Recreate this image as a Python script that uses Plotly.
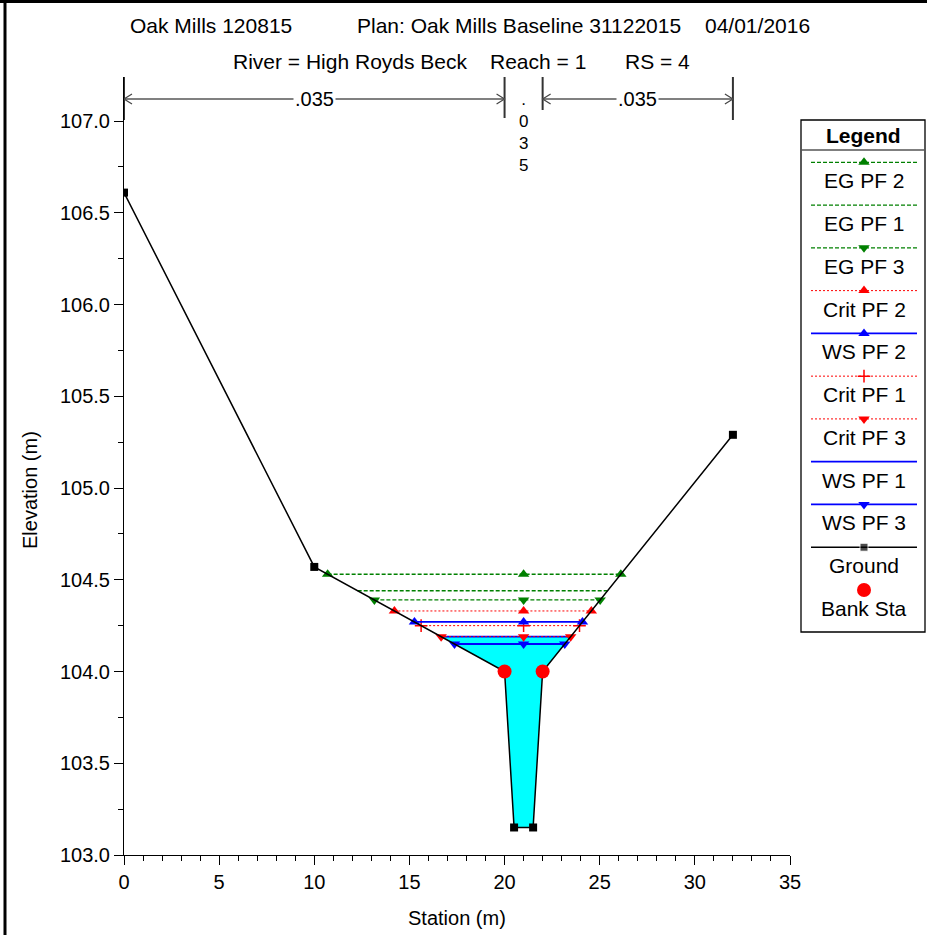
import numpy as np
import plotly.graph_objects as go

# ---------------- data ----------------
ground_x = [0.0, 10.0, 20.0, 20.5, 21.5, 22.0, 32.0]
ground_y = [106.61, 104.57, 104.00, 103.15, 103.15, 104.00, 105.29]
bank_x = [20.0, 22.0]
bank_y = [104.00, 104.00]
n_stations = [0.0, 20.0, 22.0, 32.0]
n_values = [".035", ".035", ".035"]

profile_names = ["EG PF 2", "EG PF 1", "EG PF 3", "Crit PF 2", "WS PF 2",
                 "Crit PF 1", "Crit PF 3", "WS PF 1", "WS PF 3"]
profile_elev = [104.53, 104.44, 104.39, 104.33, 104.27, 104.25, 104.19, 104.19, 104.15]
fill_profile = "WS PF 1"

title_line1 = ["Oak Mills 120815", "Plan: Oak Mills Baseline 31122015", "04/01/2016"]
title_line2 = ["River = High Royds Beck", "Reach = 1", "RS = 4"]
x_title = "Station (m)"
y_title = "Elevation (m)"
x_ticks = [0, 5, 10, 15, 20, 25, 30, 35]
y_ticks = [103.0, 103.5, 104.0, 104.5, 105.0, 105.5, 106.0, 106.5, 107.0]

# ---------------- styles ----------------
GREEN = "#008000"
RED = "#ff0000"
BLUE = "#0000ff"
styles = {
    "EG PF 2": dict(color=GREEN, dash="4px,2px", width=1.3, symbol="triangle-up"),
    "EG PF 1": dict(color=GREEN, dash="4px,2px", width=1.3, symbol=None),
    "EG PF 3": dict(color=GREEN, dash="4px,2px", width=1.3, symbol="triangle-down"),
    "Crit PF 2": dict(color=RED, dash="2px,2px", width=1.0, symbol="triangle-up"),
    "WS PF 2": dict(color=BLUE, dash="solid", width=1.8, symbol="triangle-up"),
    "Crit PF 1": dict(color=RED, dash="2px,2px", width=1.0, symbol="cross-thin"),
    "Crit PF 3": dict(color=RED, dash="2px,2px", width=1.0, symbol="triangle-down"),
    "WS PF 1": dict(color=BLUE, dash="solid", width=1.8, symbol=None),
    "WS PF 3": dict(color=BLUE, dash="solid", width=1.8, symbol="triangle-down"),
}
FONT = "Liberation Sans, Arial, Helvetica, sans-serif"

W, H = 927, 935
ML, MR, MT, MB = 124, 1, 77, 80
PW = W - ML - MR
PH = H - MT - MB


def px(xp):
    return (xp - ML) / PW


def py(yp):
    return (H - MB - yp) / PH


gx = np.array(ground_x)
gy = np.array(ground_y)
imin = int(np.argmin(gy))


def crossings(level):
    left = np.interp(level, gy[:imin + 1][::-1], gx[:imin + 1][::-1])
    right = np.interp(level, gy[imin + 1:], gx[imin + 1:])
    return left, right


mid_x = float(np.mean(bank_x))

fig = go.Figure()

# water fill
lvl = profile_elev[profile_names.index(fill_profile)]
xl, xr = crossings(lvl)
fx = [xl] + [x for x, y in zip(ground_x, ground_y) if y < lvl] + [xr]
fy = [lvl] + [y for y in ground_y if y < lvl] + [lvl]
fig.add_trace(go.Scatter(x=fx, y=fy, fill="toself", fillcolor="#00ffff",
                         mode="none", showlegend=False, hoverinfo="skip"))


def marker_for(st):
    if st["symbol"] == "cross-thin":
        return dict(symbol="cross-thin", size=9, color=st["color"],
                    line=dict(color=st["color"], width=1.5))
    return dict(symbol=st["symbol"], size=10, color=st["color"])


# profile lines (draw bottom-most first)
for name, elev in reversed(list(zip(profile_names, profile_elev))):
    st = styles[name]
    xl, xr = crossings(elev)
    fig.add_trace(go.Scatter(x=[xl, xr], y=[elev, elev], mode="lines",
                             line=dict(color=st["color"], dash=st["dash"], width=st["width"]),
                             showlegend=False, hoverinfo="skip"))
    if st["symbol"]:
        fig.add_trace(go.Scatter(x=[xl, mid_x, xr], y=[elev] * 3, mode="markers",
                                 marker=marker_for(st), showlegend=False, hoverinfo="skip"))

# ground
fig.add_trace(go.Scatter(x=ground_x, y=ground_y, mode="lines+markers",
                         line=dict(color="black", width=1.5),
                         marker=dict(symbol="square", size=8, color="black"),
                         showlegend=False, hoverinfo="skip"))
# banks
fig.add_trace(go.Scatter(x=bank_x, y=bank_y, mode="markers",
                         marker=dict(symbol="circle", size=14, color=RED),
                         showlegend=False, hoverinfo="skip"))

shapes = []
annotations = []

# ---- Manning's n brackets ----
GRAY = "#808080"
bracket_bottom = [120, 118, 110, 120]
for s, bb in zip(n_stations, bracket_bottom):
    shapes.append(dict(type="line", xref="x", yref="paper", x0=s, x1=s,
                       y0=py(77), y1=py(bb), line=dict(color="#333333", width=2)))
arrow_y = py(99)
dxs = 8 / 666 * 35  # chevron length in stations (~8px)
dh = 5 / PH
for i, val in enumerate(n_values):
    a, b = n_stations[i], n_stations[i + 1]
    if b - a < 5:
        # narrow segment: vertical text
        annotations.append(dict(x=(a + b) / 2, y=py(88), xref="x", yref="paper",
                                text="<br>".join(list(val)), showarrow=False,
                                font=dict(family=FONT, size=17, color="black"),
                                xanchor="center", yanchor="top"))
        continue
    shapes.append(dict(type="line", xref="x", yref="paper", x0=a, x1=b, y0=arrow_y, y1=arrow_y,
                       line=dict(color=GRAY, width=2)))
    shapes.append(dict(type="path", xref="x", yref="paper",
                       path=f"M {a + dxs} {arrow_y + dh} L {a} {arrow_y} L {a + dxs} {arrow_y - dh}",
                       line=dict(color="#444444", width=1.2)))
    shapes.append(dict(type="path", xref="x", yref="paper",
                       path=f"M {b - dxs} {arrow_y + dh} L {b} {arrow_y} L {b - dxs} {arrow_y - dh}",
                       line=dict(color="#444444", width=1.2)))
    annotations.append(dict(x=(a + b) / 2, y=arrow_y, xref="x", yref="paper", text=val,
                            showarrow=False, bgcolor="white", borderpad=1,
                            font=dict(family=FONT, size=20, color="black"),
                            xanchor="center", yanchor="middle"))

# ---- titles ----
for txt, xp in zip(title_line1, [128, 355, 703]):
    annotations.append(dict(x=px(xp), y=py(25), xref="paper", yref="paper", text=txt, showarrow=False,
                            xanchor="left", yanchor="middle", font=dict(family=FONT, size=21, color="black")))
for txt, xp in zip(title_line2, [231, 488, 623]):
    annotations.append(dict(x=px(xp), y=py(61), xref="paper", yref="paper", text=txt, showarrow=False,
                            xanchor="left", yanchor="middle", font=dict(family=FONT, size=21, color="black")))

# axis titles
annotations.append(dict(x=px(457), y=py(918), xref="paper", yref="paper", text=x_title, showarrow=False,
                        xanchor="center", yanchor="middle", font=dict(family=FONT, size=20, color="black")))
annotations.append(dict(x=px(30), y=py(490), xref="paper", yref="paper", text=y_title, showarrow=False,
                        textangle=-90, xanchor="center", yanchor="middle",
                        font=dict(family=FONT, size=20, color="black")))

# outer frame (top and left)
shapes.append(dict(type="line", xref="paper", yref="paper", x0=px(0), x1=px(W), y0=py(1.5), y1=py(1.5),
                   line=dict(color="black", width=3)))
shapes.append(dict(type="line", xref="paper", yref="paper", x0=px(5), x1=px(5), y0=py(0), y1=py(H),
                   line=dict(color="black", width=3)))

# ---- legend (drawn on its own pixel-scaled axes) ----
LX0, LX1, LY0, LY1 = 795, 926, 115, 640
shapes.append(dict(type="rect", xref="x2", yref="y2", x0=801, x1=925, y0=120, y1=632,
                   line=dict(color="black", width=1.3), fillcolor="rgba(0,0,0,0)"))
shapes.append(dict(type="line", xref="x2", yref="y2", x0=801, x1=925, y0=150, y1=150,
                   line=dict(color="#555555", width=1.5)))
annotations.append(dict(x=863, y=135, xref="x2", yref="y2", text="<b>Legend</b>", showarrow=False,
                        xanchor="center", yanchor="middle", font=dict(family=FONT, size=21, color="black")))
legend_names = profile_names + ["Ground", "Bank Sta"]
for k, name in enumerate(legend_names):
    ly = 162.3 + 42.77 * k
    if name in styles:
        st = styles[name]
        fig.add_trace(go.Scatter(x=[811, 917], y=[ly, ly], xaxis="x2", yaxis="y2", mode="lines",
                                 line=dict(color=st["color"], dash=st["dash"], width=st["width"]),
                                 showlegend=False, hoverinfo="skip"))
        if st["symbol"]:
            fig.add_trace(go.Scatter(x=[864], y=[ly], xaxis="x2", yaxis="y2", mode="markers",
                                     marker=marker_for(st), showlegend=False, hoverinfo="skip"))
    elif name == "Ground":
        fig.add_trace(go.Scatter(x=[811, 864, 917], y=[ly] * 3, xaxis="x2", yaxis="y2",
                                 mode="lines+markers", line=dict(color="black", width=1.5),
                                 marker=dict(symbol="square", size=[0, 8, 0], color="black"),
                                 showlegend=False, hoverinfo="skip"))
    else:
        fig.add_trace(go.Scatter(x=[864], y=[ly], xaxis="x2", yaxis="y2", mode="markers",
                                 marker=dict(symbol="circle", size=14, color=RED),
                                 showlegend=False, hoverinfo="skip"))
    annotations.append(dict(x=864, y=ly + 18.5, xref="x2", yref="y2", text=name, showarrow=False,
                            xanchor="center", yanchor="middle", font=dict(family=FONT, size=21, color="black")))

fig.update_layout(
    width=W, height=H,
    margin=dict(l=ML, r=MR, t=MT, b=MB, autoexpand=False),
    paper_bgcolor="white", plot_bgcolor="white",
    font=dict(family=FONT, size=20, color="black"),
    showlegend=False,
    xaxis=dict(domain=[0, 666 / PW], range=[0, 35], tickvals=x_ticks, ticktext=[str(v) for v in x_ticks],
               showgrid=False, zeroline=False, showline=True, linecolor="black", linewidth=1,
               ticks="outside", ticklen=9, tickcolor="black", tickwidth=1,
               minor=dict(dtick=1, tick0=0, ticks="outside", ticklen=5, tickcolor="black", tickwidth=1),
               tickfont=dict(family=FONT, size=20, color="black"), fixedrange=True),
    yaxis=dict(domain=[0, 1], range=[103.0, 107.24], tickvals=y_ticks,
               ticktext=[f"{v:.1f}" for v in y_ticks],
               showgrid=False, zeroline=False, showline=True, linecolor="black", linewidth=1,
               ticks="outside", ticklen=9, tickcolor="black", tickwidth=1,
               minor=dict(dtick=0.25, tick0=103.0, ticks="outside", ticklen=5, tickcolor="black", tickwidth=1),
               tickfont=dict(family=FONT, size=20, color="black"), fixedrange=True),
    xaxis2=dict(domain=[px(LX0), px(LX1)], range=[LX0, LX1], visible=False, anchor="y2", fixedrange=True),
    yaxis2=dict(domain=[py(LY1), py(LY0)], range=[LY1, LY0], visible=False, anchor="x2", fixedrange=True),
    shapes=shapes,
    annotations=annotations,
)

fig.write_html("out.html", config={"displayModeBar": False},
               post_script="document.body.style.margin='0';document.body.style.overflow='hidden';")
